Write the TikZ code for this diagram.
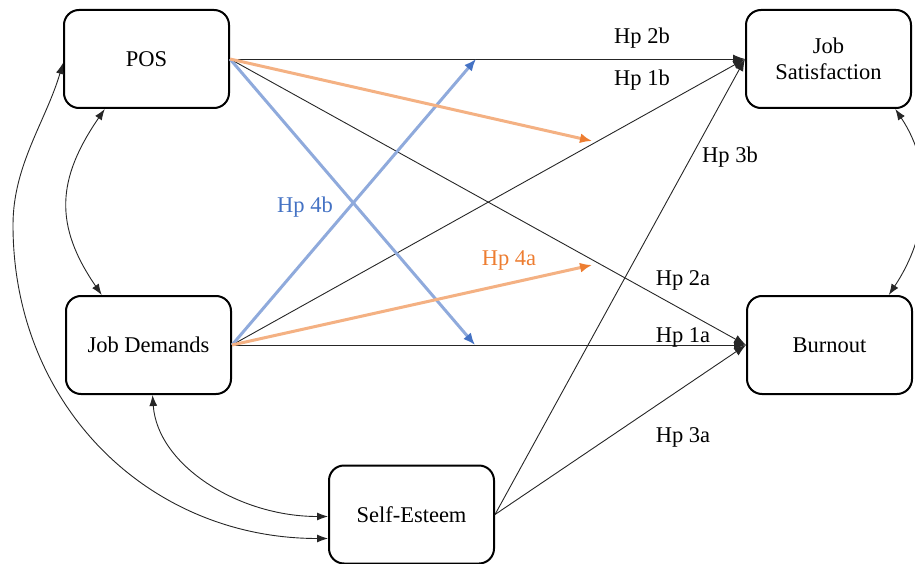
\documentclass[tikz,border=0pt]{standalone}
\usepackage{fontspec}
\setmainfont{Liberation Serif}
\usetikzlibrary{arrows.meta,calc}
\definecolor{orL}{HTML}{F4B183}
\definecolor{orD}{HTML}{ED7D31}
\definecolor{blL}{HTML}{8FAADC}
\definecolor{blD}{HTML}{4472C4}
\begin{document}
\begin{tikzpicture}[x=1pt,y=-1pt,
  font=\fontsize{22.5}{26}\selectfont,
  box/.style={draw, line width=2pt, rounded corners=15pt, minimum width=165pt,
    minimum height=98pt, align=center, inner sep=0pt},
  hpath/.style={draw=black!85, line width=0.9pt, -{Latex[length=12pt,width=9pt]}},
  corr/.style={draw=black!85, line width=0.9pt,
    {Latex[length=11pt,width=8pt]}-{Latex[length=11pt,width=8pt]}},
  orpath/.style={draw=orL, line width=3pt, -{Latex[length=12pt,width=10pt,color=orD]}},
  blpath/.style={draw=blL, line width=3pt, -{Latex[length=12pt,width=10pt,color=blD]}},
  lab/.style={inner sep=0pt}]
\useasboundingbox (0,0) rectangle (915,564);

\node[box] (POS) at (146.5,59) {POS};
\node[box] (JD) at (148.5,345) {Job Demands};
\node[box] (SE) at (411.5,514.5) {Self-Esteem};
\node[box] (JS) at (828.5,59) {Job\\Satisfaction};
\node[box] (BO) at (829.5,345) {Burnout};

\coordinate (o1) at (592,141);
\coordinate (o2) at (592,265);
\coordinate (b1) at (476,59);
\coordinate (b2) at (475,345);
\coordinate (farL) at (13,225);

% hypothesised paths
\draw[hpath] (POS.east) -- (JS.west);
\draw[hpath] (POS.east) -- (BO.west);
\draw[hpath] (JD.east) -- (JS.west);
\draw[hpath] (JD.east) -- (BO.west);
\draw[hpath] (SE.east) -- (JS.west);
\draw[hpath] (SE.east) -- (BO.west);

% moderation paths
\draw[blpath] (POS.east) -- (b2);
\draw[blpath] (JD.east) -- (b1);
\draw[orpath] (POS.east) -- (o1);
\draw[orpath] (JD.east) -- (o2);

% correlations
\draw[corr] ($(POS.south west)!0.25!(POS.south east)$)
  .. controls +(-48,70) and +(-48,-70) ..
  ($(JD.north west)!0.22!(JD.north east)$);
\draw[corr] ($(POS.west)+(0,4)$)
  .. controls +(-17,58) and +(0,-60) .. (farL)
  .. controls +(0,180) and +(-180,0) .. ($(SE.south west)+(0,-26)$);
\draw[corr] ($(JD.south)+(4,0)$)
  .. controls +(5,70) and +(-90,0) .. ($(SE.west)+(0,2)$);
\draw[corr] ($(JS.south west)!0.9!(JS.south east)$)
  .. controls +(40,60) and +(40,-60) ..
  ($(BO.north west)!0.855!(BO.north east)$);

% labels
\node[lab] (l2b) at (642,38) {Hp 2b};
\node[lab] (l1b) at (642,80) {Hp 1b};
\node[lab] (l3b) at (730,157) {Hp 3b};
\node[lab, text=blD] (l4b) at (305,207) {Hp 4b};
\node[lab, text=orD] (l4a) at (509,260) {Hp 4a};
\node[lab] (l2a) at (683,280) {Hp 2a};
\node[lab] (l1a) at (683,337) {Hp 1a};
\node[lab] (l3a) at (683,437) {Hp 3a};
\end{tikzpicture}
\end{document}
